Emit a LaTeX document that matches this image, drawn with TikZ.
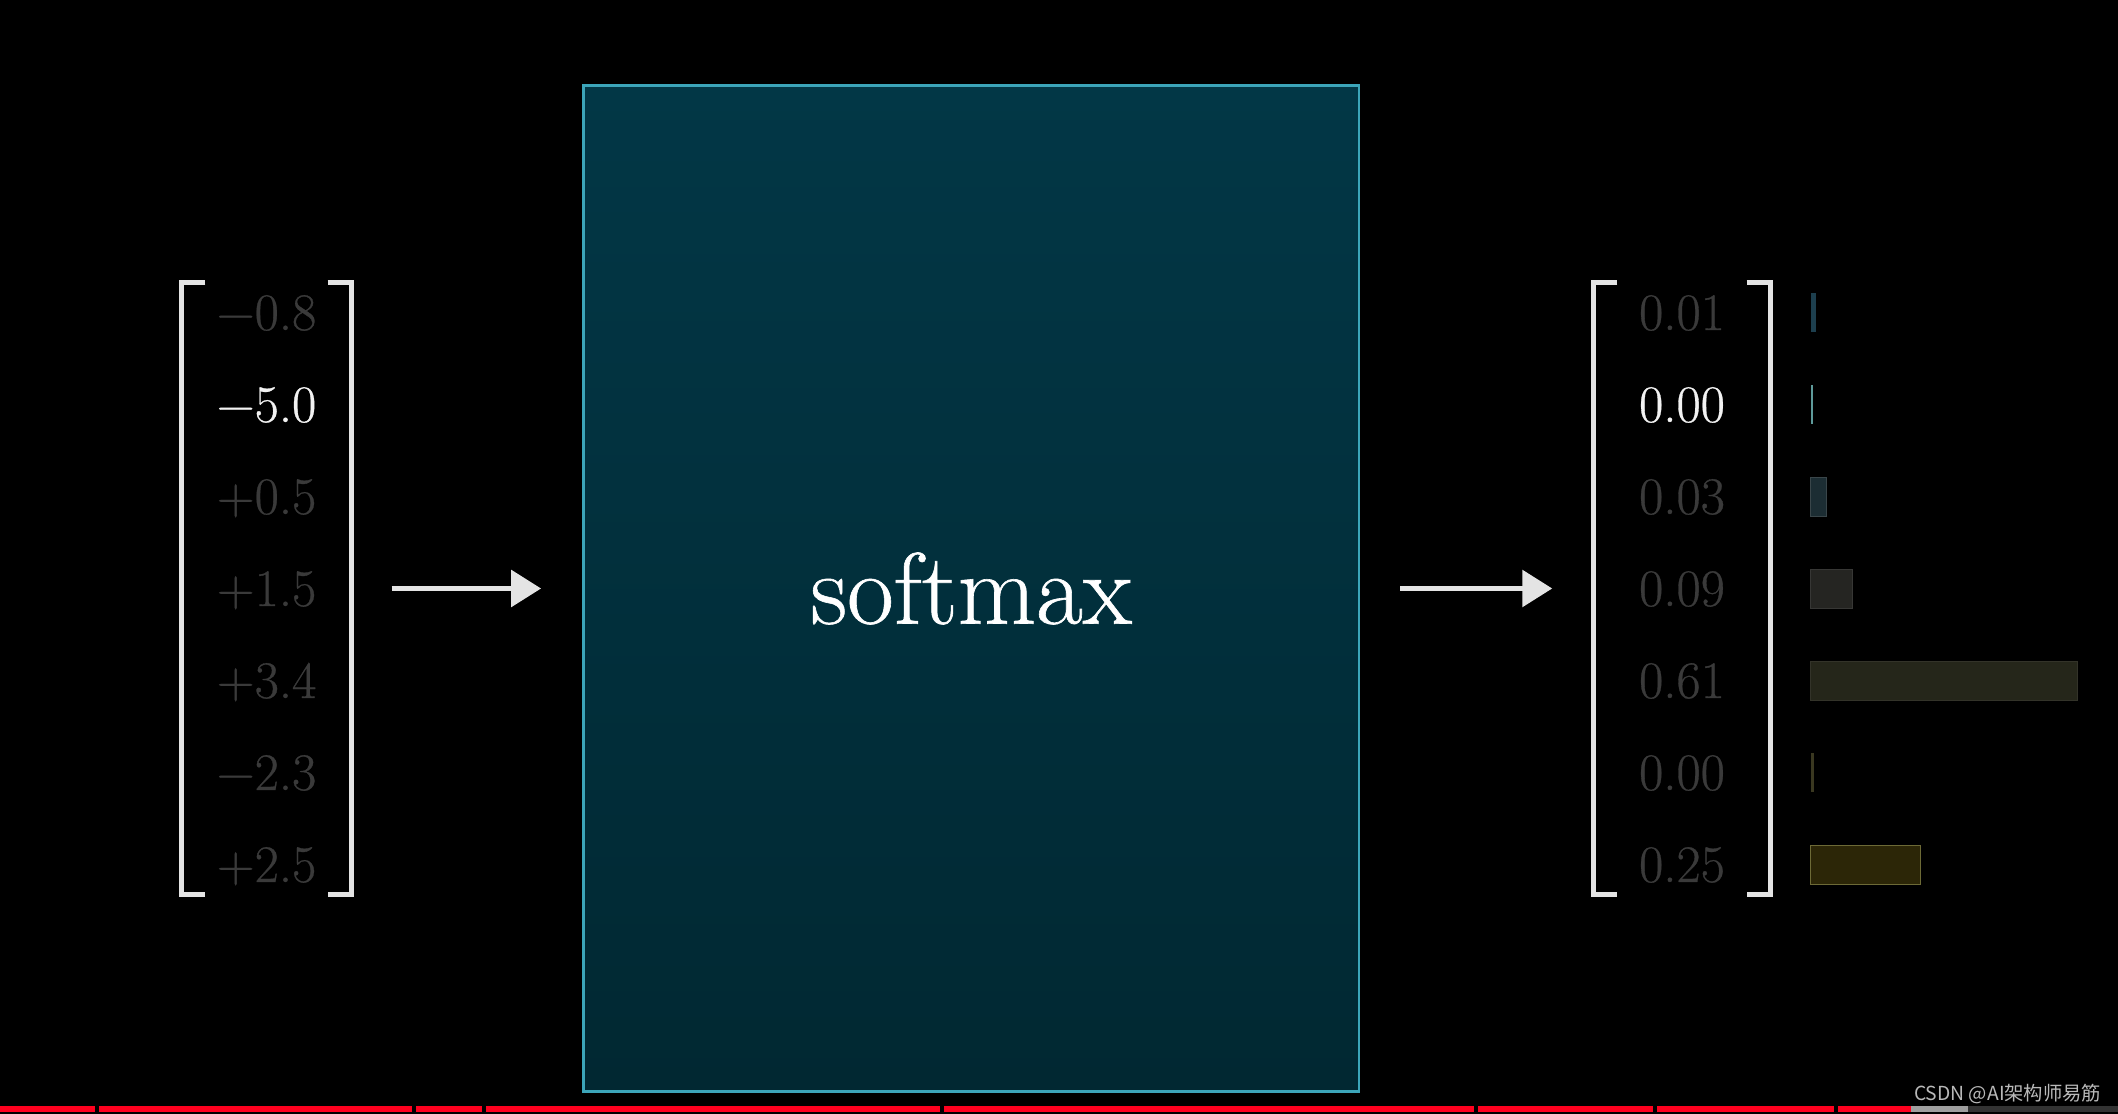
\documentclass[tikz,border=0pt]{standalone}
\usepackage{fontspec}
\newfontfamily\cjk{Noto Sans CJK SC}
\newfontfamily\lmfat{Latin Modern Roman}[FakeBold=0.6]
\usetikzlibrary{arrows.meta,positioning}
\definecolor{boxtop}{RGB}{2,55,70}
\definecolor{boxbot}{RGB}{1,40,50}
\definecolor{boxedge}{RGB}{60,165,185}
\definecolor{numgray}{RGB}{58,58,58}
\definecolor{numwhite}{RGB}{242,242,242}
\definecolor{brkgray}{RGB}{228,228,228}
\definecolor{ytred}{RGB}{255,0,30}
\definecolor{wmgray}{RGB}{185,185,185}
\definecolor{barA}{RGB}{29,63,78}
\definecolor{barB}{RGB}{94,154,154}
\definecolor{barC}{RGB}{28,45,51}
\definecolor{barD}{RGB}{37,37,34}
\definecolor{barE}{RGB}{37,38,26}
\definecolor{barF}{RGB}{58,56,32}
\definecolor{barG}{RGB}{44,38,7}

\begin{document}
\begin{tikzpicture}[
  num/.style={font=\lmfat\fontsize{15}{18}\selectfont, text=numgray, anchor=base, inner sep=0pt},
  hl/.style={text=numwhite},
  vec/.style={minimum width=1.69cm, minimum height=6.11cm, inner sep=0pt},
  brk/.style={brkgray, line width=0.05cm},
  bar/.style={anchor=west, minimum height=0.39cm, inner sep=0pt, line width=0.4pt},
  arr/.style={-{Triangle[length=0.3cm,width=0.36cm]}, line width=0.058cm, draw=brkgray, shorten <=0.4cm, shorten >=0.41cm}]
\fill[black] (0,0) rectangle (21.18,11.14);
% softmax box
\node[draw=boxedge, line width=0.8pt, top color=boxtop, bottom color=boxbot, minimum width=7.755cm, minimum height=10.06cm, text=white, font=\lmfat\fontsize{28.9}{32}\selectfont] (smx) at (9.713,5.255) {softmax};
% input vector
\node[vec] (invec) at (2.665,5.255) {};
\draw[brk] ([xshift=0.24cm]invec.north west) -- (invec.north west) -- (invec.south west) -- ++(0.24,0);
\draw[brk] ([xshift=-0.24cm]invec.north east) -- (invec.north east) -- (invec.south east) -- ++(-0.24,0);
\node[num] (in1) at (2.665,7.84) {−0.8};
\node[num, hl] (in2) at (2.665,6.92) {−5.0};
\node[num] (in3) at (2.665,6.00) {+0.5};
\node[num] (in4) at (2.665,5.08) {+1.5};
\node[num] (in5) at (2.665,4.16) {+3.4};
\node[num] (in6) at (2.665,3.24) {−2.3};
\node[num] (in7) at (2.665,2.32) {+2.5};
% output vector
\node[vec, minimum width=1.76cm] (outvec) at (16.82,5.255) {};
\draw[brk] ([xshift=0.24cm]outvec.north west) -- (outvec.north west) -- (outvec.south west) -- ++(0.24,0);
\draw[brk] ([xshift=-0.24cm]outvec.north east) -- (outvec.north east) -- (outvec.south east) -- ++(-0.24,0);
\node[num] (out1) at (16.82,7.84) {0.01};
\node[num, hl] (out2) at (16.82,6.92) {0.00};
\node[num] (out3) at (16.82,6.00) {0.03};
\node[num] (out4) at (16.82,5.08) {0.09};
\node[num] (out5) at (16.82,4.16) {0.61};
\node[num] (out6) at (16.82,3.24) {0.00};
\node[num] (out7) at (16.82,2.32) {0.25};
% bars
\node[bar, fill=barA, minimum width=0.05cm] (p1) at (18.10,8.01) {};
\node[bar, fill=barB, minimum width=0.025cm] (p2) at (18.10,7.09) {};
\node[bar, fill=barC, draw=barC!70!gray, minimum width=0.16cm] (p3) at (18.10,6.17) {};
\node[bar, fill=barD, draw=barD!80!gray, minimum width=0.42cm] (p4) at (18.10,5.25) {};
\node[bar, fill=barE, draw=barE!85!gray, minimum width=2.67cm] (p5) at (18.10,4.33) {};
\node[bar, fill=barF, minimum width=0.03cm] (p6) at (18.10,3.41) {};
\node[bar, fill=barG, draw=barG!75!yellow!60!gray, minimum width=1.10cm] (p7) at (18.10,2.49) {};
% arrows
\draw[arr] (invec) -- (smx);
\draw[arr] (smx) -- (outvec);
% player bar and watermark
\fill[ytred] (0,0.02) rectangle (19.11,0.08);
\fill[gray!75] (19.11,0.02) rectangle (19.68,0.08);
\fill[black!80] (19.68,0.02) rectangle (21.18,0.08);
\foreach \g in {0.946,4.12,4.82,9.40,14.74,16.53,18.34}
  \fill[black] (\g,0.02) rectangle ++(0.04,0.06);
\node[anchor=base east, inner sep=0pt, text=wmgray, font=\cjk\fontsize{5.5}{7}\selectfont] (wm) at (21.02,0.13) {CSDN @AI架构师易筋};
\end{tikzpicture}
\end{document}
